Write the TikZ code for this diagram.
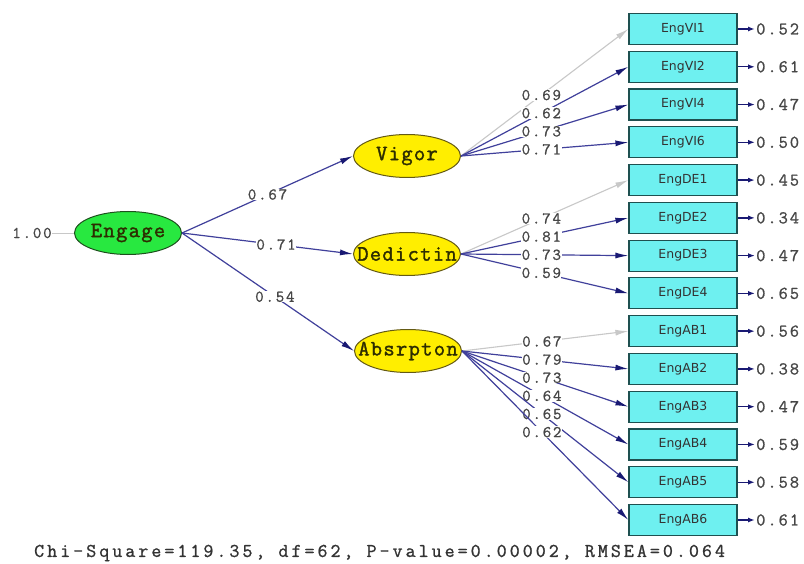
\documentclass[tikz,border=0pt]{standalone}
\usepackage{fontspec}
\usetikzlibrary{shapes.geometric,arrows.meta}
\newfontfamily\lblfam[LetterSpace=11,FakeBold=1]{Latin Modern Mono}
\newfontfamily\chifam[LetterSpace=15.5,FakeBold=1]{Latin Modern Mono}
\newfontfamily\factfam[LetterSpace=6,FakeBold=1.6]{Latin Modern Mono}
\newfontfamily\boxfam{DejaVu Sans}
\definecolor{enggreen}{RGB}{40,232,64}
\definecolor{greenbd}{RGB}{30,80,30}
\definecolor{yel}{RGB}{255,238,0}
\definecolor{yelbd}{RGB}{100,90,20}
\definecolor{cyanfill}{RGB}{110,240,240}
\definecolor{boxbd}{RGB}{30,80,80}
\definecolor{navyline}{RGB}{64,64,155}
\definecolor{navyhead}{RGB}{25,25,115}
\definecolor{grayline}{RGB}{200,200,200}
\definecolor{lbltext}{RGB}{70,70,70}
\definecolor{facttext}{RGB}{45,45,0}
\newcommand{\ftxt}[1]{\makebox[0pt]{#1}}
\begin{document}
\begin{tikzpicture}[x=1bp,y=-1bp,
  factor/.style={ellipse, draw=yelbd, fill=yel, line width=1bp, minimum width=107bp, minimum height=43bp, inner sep=0pt, font=\factfam\fontsize{22}{22}\selectfont, text=facttext},
  obs/.style={rectangle, draw=boxbd, fill=cyanfill, line width=1.2bp, minimum width=108bp, minimum height=31bp, inner sep=0pt, font=\boxfam\fontsize{12.5}{12.5}\selectfont, text=black!80},
  lbl/.style={font=\lblfam\fontsize{16.5}{16.5}\selectfont, fill=white, inner sep=0.5bp, text=lbltext},
  errlbl/.style={font=\lblfam\fontsize{18}{18}\selectfont, inner sep=1bp, text=lbltext, anchor=west},
  loadpath/.style={draw=navyline, line width=1.2bp, -{Latex[length=13bp,width=6bp,color=navyhead]}},
  fixedpath/.style={draw=grayline, line width=1.1bp, -{Latex[length=13bp,width=6bp,color=grayline]}},
  errpath/.style={draw=navyhead, line width=1.4bp, -{Latex[length=7bp,width=5bp]}},
  chistyle/.style={font=\chifam\fontsize{19.5}{19.5}\selectfont, inner sep=0pt, text=black!80, anchor=west}
]
\fill[white] (0,0) rectangle (804,564);
\useasboundingbox (0,0) rectangle (804,564);

% latent variables
\node[factor, fill=enggreen, draw=greenbd] (engage) at (128,233) {\ftxt{Engage}};
\node[factor] (vigor) at (407,156) {\ftxt{Vigor}};
\node[factor] (dedic) at (407,254) {\ftxt{Dedictin}};
\node[factor] (absr) at (408,351) {\ftxt{Absrpton}};

% observed variables with error terms
\foreach \n/\t/\e [count=\i from 0] in {vi1/EngVI1/0.52, vi2/EngVI2/0.61, vi4/EngVI4/0.47, vi6/EngVI6/0.50,
  de1/EngDE1/0.45, de2/EngDE2/0.34, de3/EngDE3/0.47, de4/EngDE4/0.65,
  ab1/EngAB1/0.56, ab2/EngAB2/0.38, ab3/EngAB3/0.47, ab4/EngAB4/0.59, ab5/EngAB5/0.58, ab6/EngAB6/0.61}{
  \node[obs] (\n) at (683,{29+\i*37.77}) {\t};
  \node[errlbl] (e\n) at (755,{29+\i*37.77}) {\e};
  \draw[errpath] (\n.east) -- (e\n.west);
}

% variance of Engage
\node[lbl, fill=none] (one) at (32,233) {1.00};
\draw[draw=grayline, line width=1bp] (one.east) -- (engage.west);

% second-order paths
\draw[loadpath] (engage.east) -- node[lbl, pos=.5] {0.67} (vigor.west);
\draw[loadpath] (engage.east) -- node[lbl, pos=.55] {0.71} (dedic.west);
\draw[loadpath] (engage.east) -- node[lbl, pos=.54] {0.54} (absr.west);

% Vigor loadings
\draw[fixedpath] (vigor.east) -- node[lbl, pos=.48] {0.69} (vi1.west);
\draw[loadpath] (vigor.east) -- node[lbl, pos=.48] {0.62} (vi2.west);
\draw[loadpath] (vigor.east) -- node[lbl, pos=.48] {0.73} (vi4.west);
\draw[loadpath] (vigor.east) -- node[lbl, pos=.48] {0.71} (vi6.west);

% Dedication loadings
\draw[fixedpath] (dedic.east) -- node[lbl, pos=.48] {0.74} (de1.west);
\draw[loadpath] (dedic.east) -- node[lbl, pos=.48] {0.81} (de2.west);
\draw[loadpath] (dedic.east) -- node[lbl, pos=.48] {0.73} (de3.west);
\draw[loadpath] (dedic.east) -- node[lbl, pos=.48] {0.59} (de4.west);

% Absorption loadings
\draw[fixedpath] (absr.east) -- node[lbl, pos=.48] {0.67} (ab1.west);
\draw[loadpath] (absr.east) -- node[lbl, pos=.48] {0.79} (ab2.west);
\draw[loadpath] (absr.east) -- node[lbl, pos=.48] {0.73} (ab3.west);
\draw[loadpath] (absr.east) -- node[lbl, pos=.48] {0.64} (ab4.west);
\draw[loadpath] (absr.east) -- node[lbl, pos=.48] {0.65} (ab5.west);
\draw[loadpath] (absr.east) -- node[lbl, pos=.48] {0.62} (ab6.west);

% fit statistics
\node[chistyle] (chi) at (34,553) {Chi-Square=119.35, df=62, P-value=0.00002, RMSEA=0.064};
\end{tikzpicture}
\end{document}
